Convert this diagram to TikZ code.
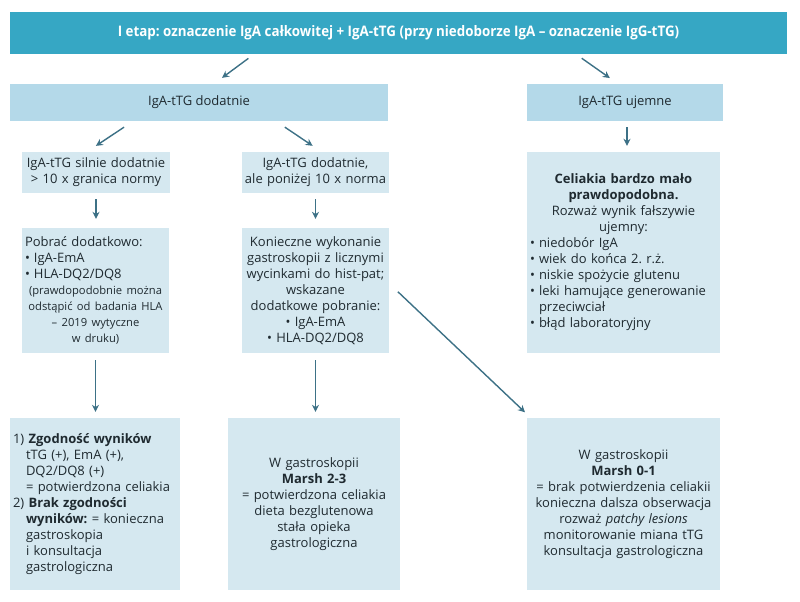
\documentclass[tikz,border=0pt]{standalone}
\usepackage{fontspec}
\setmainfont{Open Sans}
\newfontfamily\headfont[FakeStretch=0.92]{Open Sans}
\usetikzlibrary{arrows.meta}
\definecolor{headblue}{HTML}{36A7C4}
\definecolor{midblue}{HTML}{B4D9E9}
\definecolor{paleblue}{HTML}{D5E8F0}
\definecolor{arrowblue}{HTML}{3D7186}
\definecolor{inkgray}{HTML}{1F2A30}
\setlength{\parindent}{0pt}
\frenchspacing
\newcommand{\pkt}[1]{\par\hangindent=9pt\hangafter=1\makebox[9pt][l]{\textbullet}#1}
\newcommand{\wciecie}{\newline\hspace*{13pt}}
\begin{document}
\begin{tikzpicture}[x=1pt, y=-1pt, line join=round, >={Stealth[length=7pt,width=7pt]},
	every node/.style={font=\fontsize{13}{16}\selectfont, text=inkgray},
	head/.style={fill=headblue, text=white, minimum width=777pt, minimum height=42pt, font=\headfont\bfseries\fontsize{14.5}{16}\selectfont},
	result/.style={fill=midblue, minimum height=37pt},
	box/.style={fill=paleblue, inner xsep=3pt, inner ysep=6pt},
	link/.style={->, draw=arrowblue, line width=1.4pt}]
	\useasboundingbox (0,0) rectangle (800,602);
	% etap I i wyniki
	\node[head] (etap) at (398.5,33) {I etap: oznaczenie IgA całkowitej + IgA-tTG (przy niedoborze IgA – oznaczenie IgG-tTG)};
	\node[result, minimum width=378pt] (dodatnie) at (199,102.5) {IgA-tTG dodatnie};
	\node[result, minimum width=196pt] (ujemne) at (625,102.5) {IgA-tTG ujemne};
	% poziom miana
	\node[box, inner xsep=0pt, text width=148pt, minimum height=41pt, align=center] (silnie) at (96,172.5) {\mbox{IgA-tTG silnie dodatnie}\\\mbox{> 10 x granica normy}};
	\node[box, inner xsep=0pt, text width=147pt, minimum height=41pt, align=center] (slabo) at (315.5,172.5) {\mbox{IgA-tTG dodatnie,}\\\mbox{ale poniżej 10 x norma}};
	\node[box, text width=187pt, minimum height=201pt, align=left] (malo) at (623.5,252.5) {{\centering\bfseries Celiakia bardzo mało\\prawdopodobna.\par}{\centering Rozważ wynik fałszywie\\ujemny:\par}\pkt{niedobór IgA}\pkt{wiek do końca 2. r.ż.}\pkt{niskie spożycie glutenu}\pkt{leki hamujące generowanie\newline przeciwciał}\pkt{błąd laboratoryjny}};
	% dalsze badania
	\node[box, text width=141pt, minimum height=125pt, align=left] (pobrac) at (95.5,290.5) {Pobrać dodatkowo:\pkt{IgA-EmA}\pkt{HLA-DQ2/DQ8}\par{\centering\fontsize{11.2}{16}\selectfont (prawdopodobnie można\\odstąpić od badania HLA\\– 2019 wytyczne\\w druku)\par}};
	\node[box, text width=141pt, minimum height=125pt, align=center] (gastro) at (315.5,290.5) {Konieczne wykonanie\\gastroskopii z licznymi\\wycinkami do hist-pat;\\wskazane\\dodatkowe pobranie:\\\textbullet{} IgA-EmA\\\textbullet{} HLA-DQ2/DQ8};
	% rozpoznanie
	\node[box, text width=164pt, minimum height=172pt, align=left] (zgodnosc) at (95,504) {1) \textbf{Zgodność wyników}\wciecie tTG (+), EmA (+),\wciecie DQ2/DQ8 (+)\wciecie = potwierdzona celiakia\newline 2) \textbf{Brak zgodności}\wciecie\textbf{wyników:} = konieczna\wciecie gastroskopia\wciecie i konsultacja\wciecie gastrologiczna};
	\node[box, text width=166pt, minimum height=172pt, align=center] (marsh23) at (314,504) {W gastroskopii\\\textbf{Marsh 2-3}\\= potwierdzona celiakia\\dieta bezglutenowa\\stała opieka\\gastrologiczna};
	\node[box, text width=187pt, minimum height=172pt, align=center] (marsh01) at (623.5,504) {W gastroskopii\\\textbf{Marsh 0-1}\\= brak potwierdzenia celiakii\\konieczna dalsza obserwacja\\rozważ \textit{patchy lesions}\\monitorowanie miana tTG\\konsultacja gastrologiczna};
	% strzalki
	\draw[link, shorten <=7pt, shorten >=10pt] ([xshift=-144.5pt]etap.south) -- ([xshift=15pt]dodatnie.north);
	\draw[link, shorten <=7pt, shorten >=10pt] ([xshift=177.5pt]etap.south) -- ([xshift=-7pt]ujemne.north);
	\draw[link, shorten <=10.7pt, shorten >=10.7pt] ([xshift=-66pt]dodatnie.south) -- ([xshift=-9pt]silnie.north);
	\draw[link, shorten <=10.7pt, shorten >=10.7pt] ([xshift=77pt]dodatnie.south) -- ([xshift=6pt]slabo.north);
	\draw[link, shorten <=6pt, shorten >=6pt] ([xshift=2pt]ujemne.south) -- ([xshift=2pt]ujemne.south |- malo.north);
	\draw[link, shorten <=6pt, shorten >=9pt] (silnie.south) -- (silnie.south |- pobrac.north);
	\draw[link, shorten <=6pt, shorten >=9pt] (slabo.south) -- (slabo.south |- gastro.north);
	\draw[link, shorten <=7pt, shorten >=6pt] (pobrac.south) -- (pobrac.south |- zgodnosc.north);
	\draw[link, shorten <=7pt, shorten >=6pt] (gastro.south) -- (gastro.south |- marsh23.north);
	\draw[link, shorten <=12pt, shorten >=8pt] ([yshift=7pt]gastro.east) -- ([xshift=4pt]marsh01.north west);
\end{tikzpicture}
\end{document}
